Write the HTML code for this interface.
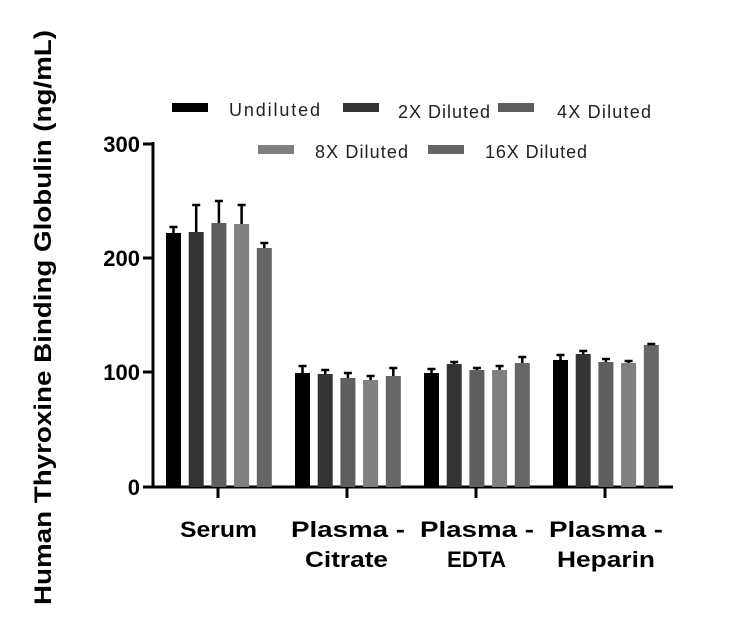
<!DOCTYPE html><html><head><style>body{margin:0;background:#fff}</style></head><body>
<svg width="750" height="631" xmlns="http://www.w3.org/2000/svg" font-family="Liberation Sans, sans-serif">
<rect width="750" height="631" fill="#fff"/>
<g stroke="#000" stroke-width="3" fill="none">
<line x1="153" y1="142" x2="153" y2="488"/>
<line x1="152" y1="487" x2="673" y2="487"/>
<line x1="143" y1="144" x2="153" y2="144"/><line x1="143" y1="258" x2="153" y2="258"/><line x1="143" y1="372" x2="153" y2="372"/><line x1="143" y1="487" x2="153" y2="487"/>
<line x1="218" y1="487" x2="218" y2="498"/><line x1="347" y1="487" x2="347" y2="498"/><line x1="476" y1="487" x2="476" y2="498"/><line x1="605" y1="487" x2="605" y2="498"/>
</g>
<g font-size="22" font-weight="bold" text-anchor="end"><text x="140" y="152">300</text><text x="140" y="266">200</text><text x="140" y="380">100</text><text x="140" y="495">0</text></g>
<g font-size="22" font-weight="bold">
<text x="180" y="537" textLength="77" lengthAdjust="spacingAndGlyphs">Serum</text>
<text x="291" y="537" textLength="114" lengthAdjust="spacingAndGlyphs">Plasma -</text><text x="305" y="567" textLength="83" lengthAdjust="spacingAndGlyphs">Citrate</text>
<text x="420" y="537" textLength="114" lengthAdjust="spacingAndGlyphs">Plasma -</text><text x="447" y="567" textLength="59" lengthAdjust="spacingAndGlyphs">EDTA</text>
<text x="549" y="537" textLength="114" lengthAdjust="spacingAndGlyphs">Plasma -</text><text x="557" y="567" textLength="98" lengthAdjust="spacingAndGlyphs">Heparin</text>
</g>
<text transform="translate(51,605) rotate(-90)" font-size="24" font-weight="bold" textLength="575" lengthAdjust="spacingAndGlyphs">Human Thyroxine Binding Globulin (ng/mL)</text>
<g>
<rect x="166" y="233" width="15" height="254" fill="#000"/>
<rect x="188.7" y="232" width="15" height="255" fill="#333"/>
<rect x="211.4" y="223" width="15" height="264" fill="#5e5e5e"/>
<rect x="234.1" y="224" width="15" height="263" fill="#808080"/>
<rect x="256.8" y="248" width="15" height="239" fill="#666"/>
<rect x="295" y="373" width="15" height="114" fill="#000"/>
<rect x="317.7" y="374" width="15" height="113" fill="#333"/>
<rect x="340.4" y="378" width="15" height="109" fill="#5e5e5e"/>
<rect x="363.1" y="380" width="15" height="107" fill="#808080"/>
<rect x="385.8" y="376" width="15" height="111" fill="#666"/>
<rect x="424" y="373" width="15" height="114" fill="#000"/>
<rect x="446.7" y="364" width="15" height="123" fill="#333"/>
<rect x="469.4" y="370" width="15" height="117" fill="#5e5e5e"/>
<rect x="492.1" y="370" width="15" height="117" fill="#808080"/>
<rect x="514.8" y="363" width="15" height="124" fill="#666"/>
<rect x="553" y="360" width="15" height="127" fill="#000"/>
<rect x="575.7" y="354" width="15" height="133" fill="#333"/>
<rect x="598.4" y="362" width="15" height="125" fill="#5e5e5e"/>
<rect x="621.1" y="363" width="15" height="124" fill="#808080"/>
<rect x="643.8" y="345" width="15" height="142" fill="#666"/>
</g>
<path stroke="#000" stroke-width="2.5" fill="none" d="
M173.5 233V227M169.5 227h8
M196.2 232V205M192.2 205h8
M218.9 223V201M214.9 201h8
M241.6 224V205M237.6 205h8
M264.3 248V243M260.3 243h8
M302.5 373V366M298.5 366h8
M325.2 374V370M321.2 370h8
M347.9 378V373M343.9 373h8
M370.6 380V376M366.6 376h8
M393.3 376V368M389.3 368h8
M431.5 373V369M427.5 369h8
M454.2 364V362M450.2 362h8
M476.9 370V368M472.9 368h8
M499.6 370V366M495.6 366h8
M522.3 363V357M518.3 357h8
M560.5 360V355M556.5 355h8
M583.2 354V351M579.2 351h8
M605.9 362V359M601.9 359h8
M628.6 363V361M624.6 361h8
M651.3 345V344M647.3 344h8"/>
<g font-size="18" fill="#222" lengthAdjust="spacingAndGlyphs">
<rect x="172" y="103" width="36" height="9" fill="#000"/><text x="229" y="116" textLength="91">Undiluted</text>
<rect x="343" y="103" width="36" height="9" fill="#333"/><text x="398" y="118" textLength="92">2X Diluted</text>
<rect x="498" y="103" width="36" height="9" fill="#5e5e5e"/><text x="557" y="118" textLength="94">4X Diluted</text>
<rect x="258" y="145" width="36" height="9" fill="#808080"/><text x="315" y="158" textLength="93">8X Diluted</text>
<rect x="428" y="145" width="36" height="9" fill="#666"/><text x="485" y="158" textLength="102">16X Diluted</text>
</g>
</svg></body></html>
